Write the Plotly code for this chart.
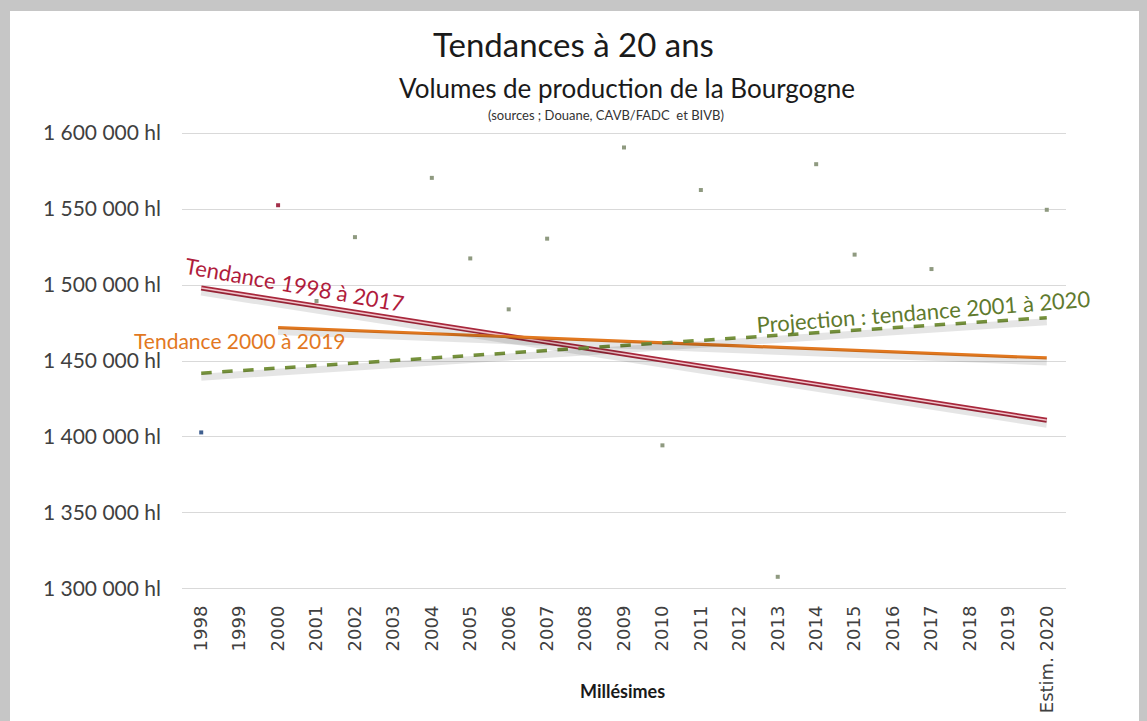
import plotly.graph_objects as go

# ---------------- data ----------------
categories = ["1998", "1999", "2000", "2001", "2002", "2003", "2004", "2005",
              "2006", "2007", "2008", "2009", "2010", "2011", "2012", "2013",
              "2014", "2015", "2016", "2017", "2018", "2019", "Estim. 2020"]
volumes = [1403000, None, 1552500, 1489500, 1531500, None, 1570500, 1517500,
           1484000, 1530500, None, 1590500, 1394500, 1562500, None, 1308000,
           1579500, 1520000, None, 1510500, None, None, 1549500]
point_colors = ["#3f5f8f", "#8f9a80", "#a3304a"] + ["#8f9a80"] * 20

trend_red_x = ["1998", "Estim. 2020"]
trend_red_y = [1498000, 1411000]
trend_orange_x = ["2000", "Estim. 2020"]
trend_orange_y = [1472000, 1452000]
trend_green_x = ["1998", "Estim. 2020"]
trend_green_y = [1442000, 1478500]

y_tickvals = [1300000, 1350000, 1400000, 1450000, 1500000, 1550000, 1600000]
y_ticktext = ["1 300 000 hl", "1 350 000 hl", "1 400 000 hl", "1 450 000 hl",
              "1 500 000 hl", "1 550 000 hl", "1 600 000 hl"]
y_range = [1298000, 1602000]

# ---------------- layout geometry ----------------
W, H = 1147, 721
L, R, T, B = 182, 1066, 130, 592


def px(x):
    return (x - L) / (R - L)


def py(y):
    return (B - y) / (B - T)


# shadow axis: same scale, shifted a few pixels downward
shadow_px = 4
units_per_px = (y_range[1] - y_range[0]) / (B - T)
y2_range = [y_range[0] + shadow_px * units_per_px, y_range[1] + shadow_px * units_per_px]

fig = go.Figure()

# soft shadows of trend lines
for xs, ys in [(trend_red_x, trend_red_y), (trend_orange_x, trend_orange_y),
               (trend_green_x, trend_green_y)]:
    fig.add_trace(go.Scatter(x=xs, y=ys, yaxis="y2", mode="lines",
                             line=dict(color="rgba(0,0,0,0.10)", width=7),
                             hoverinfo="skip", showlegend=False))

# trend lines
fig.add_trace(go.Scatter(x=trend_red_x, y=trend_red_y, mode="lines",
                         line=dict(color="#a8283c", width=5), hoverinfo="skip",
                         showlegend=False))
fig.add_trace(go.Scatter(x=trend_red_x, y=trend_red_y, mode="lines",
                         line=dict(color="#f3c6cd", width=1.6), hoverinfo="skip",
                         showlegend=False))
fig.add_trace(go.Scatter(x=trend_orange_x, y=trend_orange_y, mode="lines",
                         line=dict(color="#e2781f", width=3.2), hoverinfo="skip",
                         showlegend=False))
fig.add_trace(go.Scatter(x=trend_green_x, y=trend_green_y, mode="lines",
                         line=dict(color="#76923c", width=3.5, dash="dash"),
                         hoverinfo="skip", showlegend=False))

# points
fig.add_trace(go.Scatter(x=categories, y=volumes, mode="markers",
                         marker=dict(symbol="square", size=4, color=point_colors),
                         showlegend=False, name="Volume"))

FONT = "Lato"
annotations = [
    dict(text="Tendances à 20 ans", x=px(573), y=py(44), font=dict(size=33, color="#1a1a1a", family=FONT)),
    dict(text="Volumes de production de la Bourgogne", x=px(627), y=py(88), font=dict(size=26, color="#1a1a1a", family=FONT)),
    dict(text="(sources ; Douane, CAVB/FADC  et BIVB)", x=px(606), y=py(115), font=dict(size=13, color="#333333", family=FONT)),
    dict(text="<b>Millésimes</b>", x=px(622), y=py(691), font=dict(size=18, color="#1a1a1a", family=FONT)),
    dict(text="Tendance 1998 à 2017", x=px(295), y=py(284), textangle=10,
         font=dict(size=22, color="#b01c3c", family=FONT)),
    dict(text="Tendance 2000 à 2019", x=px(240), y=py(340),
         font=dict(size=21, color="#e2781f", family=FONT)),
    dict(text="Projection : tendance 2001 à 2020", x=px(923), y=py(311), textangle=-4.5,
         font=dict(size=22, color="#5f7a2e", family=FONT)),
]
for a in annotations:
    a.update(xref="paper", yref="paper", showarrow=False, xanchor="center", yanchor="middle")

shapes = [
    dict(type="rect", xref="paper", yref="paper", x0=px(10), x1=px(1139), y0=py(11), y1=py(H + 5),
         fillcolor="white", line=dict(width=0), layer="below"),
]

fig.update_layout(
    width=W, height=H,
    margin=dict(l=L, r=W - R, t=T, b=H - B, pad=0),
    paper_bgcolor="#c6c6c6",
    plot_bgcolor="rgba(0,0,0,0)",
    annotations=annotations,
    shapes=shapes,
    showlegend=False,
    xaxis=dict(type="category", categoryorder="array", categoryarray=categories,
               range=[-0.5, len(categories) - 0.5], showgrid=False, zeroline=False,
               showline=False, tickangle=-90, ticks="", ticklabelstandoff=9,
               automargin=False,
               tickfont=dict(family="DejaVu Sans", size=18, color="#404040")),
    yaxis=dict(range=y_range, tickvals=y_tickvals, ticktext=y_ticktext,
               showgrid=True, gridcolor="#d9d9d9", gridwidth=1, zeroline=False,
               showline=False, ticks="", ticklabelstandoff=20, automargin=False,
               tickfont=dict(family=FONT, size=21, color="#404040")),
    yaxis2=dict(range=y2_range, overlaying="y", visible=False, showgrid=False,
                zeroline=False, automargin=False),
)

fig.write_html("out.html", config={"displayModeBar": False},
               post_script="document.body.style.margin='0';document.body.style.background='#c6c6c6';")
